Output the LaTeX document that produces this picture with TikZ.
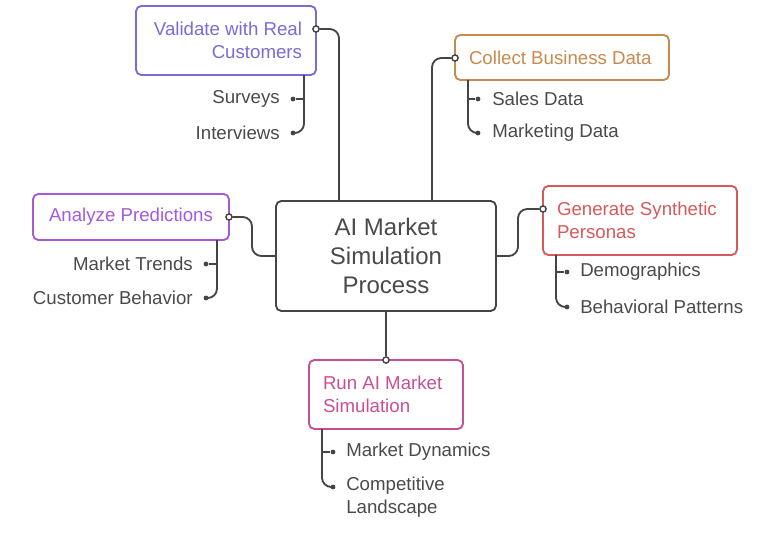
\documentclass[tikz,border=0pt]{standalone}
\usepackage{fontspec}
\setmainfont{Liberation Sans}
\definecolor{cval}{HTML}{7A6CD6}
\definecolor{ccol}{HTML}{C98A4E}
\definecolor{cana}{HTML}{A55BD8}
\definecolor{cgen}{HTML}{D65A5A}
\definecolor{crun}{HTML}{C94F94}
\definecolor{linec}{HTML}{454545}
\definecolor{txtc}{HTML}{4A4A4A}
\begin{document}
\begin{tikzpicture}[x=0.75pt,y=-0.75pt,
  box/.style={draw, rounded corners=4pt, line width=1.4pt, fill=white, inner xsep=10.5pt, inner ysep=0pt,
    font=\fontsize{14}{17.25}\selectfont},
  conn/.style={draw=linec, line width=1.4pt, rounded corners=7pt},
  port/.style={circle, draw=linec, fill=white, line width=1pt, inner sep=0pt, minimum size=4.5pt},
  dotn/.style={circle, fill=linec, inner sep=0pt, minimum size=3.6pt},
  lbl/.style={text=txtc, inner sep=0pt, font=\fontsize{14}{17.25}\selectfont, align=left}
]
\useasboundingbox (0,0) rectangle (768,552);

% center
\node[box, draw=linec, text=txtc, minimum width=165pt, minimum height=82.5pt, align=center,
  font=\fontsize{18}{21.75}\selectfont] (c) at (386,256) {AI Market\\Simulation\\Process};

% boxes
\node[box, draw=cval, text=cval, minimum width=135pt, minimum height=51.75pt, text width=114pt, align=flush right] (val) at (226,40.5) {Validate with Real\\Customers};
\node[box, draw=ccol, text=ccol, minimum width=160.5pt, minimum height=33.75pt, text width=139.5pt, align=flush left] (col) at (562,57.5) {Collect Business Data};
\node[box, draw=cana, text=cana, minimum width=147pt, minimum height=34.5pt, text width=126pt, align=flush center] (ana) at (131,217) {Analyze Predictions};
\node[box, draw=cgen, text=cgen, minimum width=145.5pt, minimum height=51.75pt, text width=124.5pt, align=flush left] (gen) at (640,220.5) {Generate Synthetic\\Personas};
\node[box, draw=crun, text=crun, minimum width=115.5pt, minimum height=51.75pt, text width=94.5pt, align=flush left] (run) at (386,394.5) {Run AI Market\\Simulation};

% ports
\node[port] (valp) at (316,29) {};
\node[port] (colp) at (455,58) {};
\node[port] (anap) at (229,217) {};
\node[port] (genp) at (543,209) {};
\node[port] (runp) at (386,360) {};

% attachment points on center box
\coordinate (ct1) at (339,201);
\coordinate (ct2) at (432,201);

% main connectors
\draw[conn] (valp) -| (ct1);
\draw[conn] (colp) -| (ct2);
\draw[conn] (anap) -- (252,217) |- (c.west);
\draw[conn] (c.east) -- (518,256) |- (genp);
\draw[conn] (c.south) -- (runp);
\node[port] at (valp) {};
\node[port] at (colp) {};
\node[port] at (anap) {};
\node[port] at (genp) {};
\node[port] at (runp) {};

% --- validate subitems
\coordinate (vb) at (304,75);
\node[dotn] (vs1) at (293,99) {};
\node[dotn] (vs2) at (293,133) {};
\node[lbl, anchor=east] (vs1t) at (280,99) {Surveys};
\node[lbl, anchor=east] (vs2t) at (280,133) {Interviews};
\draw[conn] (vb) |- (vs2);
\draw[conn] (vb |- vs1) -- (vs1);

% --- collect subitems
\coordinate (cb) at (468,80);
\node[dotn] (cs1) at (478,99) {};
\node[dotn] (cs2) at (478,133) {};
\node[lbl, anchor=west] (cs1t) at (492,99) {Sales Data};
\node[lbl, anchor=west] (cs2t) at (492,133) {Marketing Data};
\draw[conn] (cb) |- (cs2);
\draw[conn] (cb |- cs1) -- (cs1);

% --- analyze subitems
\coordinate (ab) at (217,240);
\node[dotn] (as1) at (206,264) {};
\node[dotn] (as2) at (206,298) {};
\node[lbl, anchor=east] (as1t) at (193,264) {Market Trends};
\node[lbl, anchor=east] (as2t) at (193,298) {Customer Behavior};
\draw[conn] (ab) |- (as2);
\draw[conn] (ab |- as1) -- (as1);

% --- generate subitems
\coordinate (gb) at (556,255);
\node[dotn] (gs1) at (567,272) {};
\node[dotn] (gs2) at (567,307) {};
\node[lbl, anchor=west] (gs1t) at (580,272) {Demographics};
\node[lbl, anchor=west] (gs2t) at (580,307) {Behavioral Patterns};
\draw[conn] (gb) |- (gs2);
\draw[conn] (gb |- gs1) -- (gs1);

% --- run subitems
\coordinate (rb) at (322,429);
\node[dotn] (rs1) at (333,452) {};
\node[dotn] (rs2) at (333,487) {};
\node[lbl, anchor=west] (rs1t) at (346,452) {Market Dynamics};
\node[lbl, anchor=north west] (rs2t) at (346,477) {Competitive\\Landscape};
\draw[conn] (rb) |- (rs2);
\draw[conn] (rb |- rs1) -- (rs1);
\end{tikzpicture}
\end{document}
